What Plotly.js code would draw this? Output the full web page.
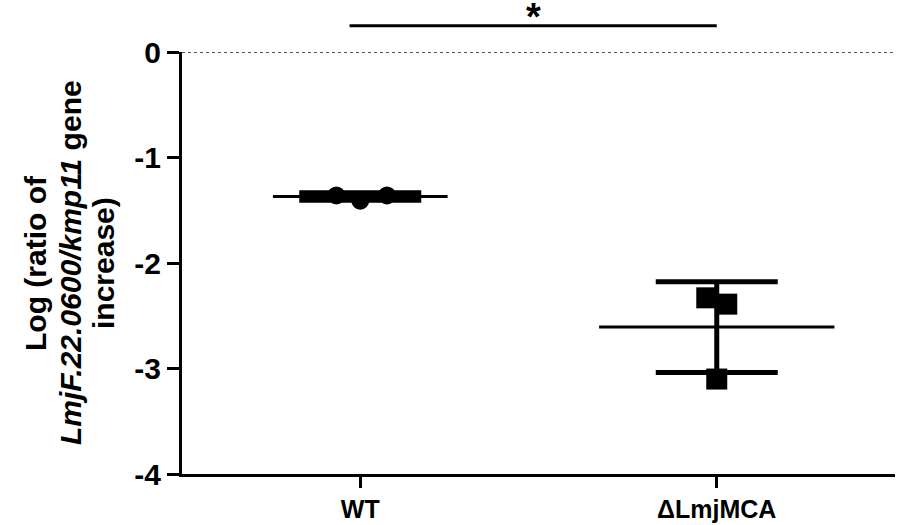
<!DOCTYPE html>
<html>
<head>
<meta charset="utf-8">
<script src="https://cdn.plot.ly/plotly-3.0.1.min.js"></script>
<style>
  html, body { margin: 0; padding: 0; background: #fff; }
  #chart { width: 898px; height: 525px; }
</style>
</head>
<body>
<div id="chart"></div>
<script>
// groups and tick labels
const groups = ['WT', '\u0394LmjMCA'];
const yTickVals = [0, -1, -2, -3, -4];
const yTickText = ['0', '-1', '-2', '-3', '-4'];
const yTitleLines = ['Log (ratio of', '<i>LmjF.22.0600/kmp11</i> gene', 'increase)'];

// individual replicates (log ratio)
const wtValues = [-1.36, -1.41, -1.36];
const wtJitter = [-0.067, 0, 0.075];
const mcaValues = [-2.33, -2.39, -3.10];
const mcaJitter = [-0.028, 0.028, 0];

// summary lines: mean and SD per group
const groupMeans = [-1.37, -2.607];
const groupSD = [0.035, 0.43];
const meanHalfWidth = [0.245, 0.33];

const black = '#000';
const font = 'Liberation Sans, Arial, sans-serif';

const traces = [];

// replicate markers
traces.push({
    x: wtValues.map((v, i) => 0 + wtJitter[i]),
    y: wtValues,
    type: 'scatter', mode: 'markers',
    marker: { symbol: 'circle', size: 18, color: black },
    hoverinfo: 'y', showlegend: false,
});
traces.push({
    x: mcaValues.map((v, i) => 1 + mcaJitter[i]),
    y: mcaValues,
    type: 'scatter', mode: 'markers',
    marker: { symbol: 'square', size: 21, color: black },
    hoverinfo: 'y', showlegend: false,
});

// mean lines
groupMeans.forEach((m, i) => {
    traces.push({
        x: [i - meanHalfWidth[i], i + meanHalfWidth[i]],
        y: [m, m],
        type: 'scatter', mode: 'lines',
        line: { color: black, width: 3 },
        hoverinfo: 'skip', showlegend: false,
    });
});

// SD error bars
traces.push({
    x: [0, 1],
    y: groupMeans,
    type: 'scatter', mode: 'markers',
    marker: { size: 1, color: 'rgba(0,0,0,0)' },
    error_y: { type: 'data', array: groupSD, visible: true, color: black, thickness: 5, width: 61 },
    hoverinfo: 'skip', showlegend: false,
});

// y title drawn as three rotated lines, placed like the original
const titleX = [-147, -112, -79];
const yTitle = yTitleLines.map((t, i) => ({
    xref: 'paper', yref: 'paper', x: 0, y: 0.5, xshift: titleX[i],
    xanchor: 'center', yanchor: 'middle', textangle: -90,
    text: t, showarrow: false,
    font: { family: font, size: 30, weight: 'bold', color: black },
}));

const layout = {
    width: 898, height: 525,
    paper_bgcolor: '#fff', plot_bgcolor: '#fff',
    font: { family: font, color: black, size: 22, weight: 'bold' },
    margin: { l: 182, r: 3, t: 52, b: 51 },
    xaxis: {
        range: [-0.5, 1.5],
        tickvals: [0, 1], ticktext: groups,
        showline: true, linewidth: 3, linecolor: black,
        ticks: 'outside', ticklen: 11, tickwidth: 3, tickcolor: black,
        showgrid: false, zeroline: false,
        tickfont: { family: font, size: 25, weight: 'bold' },
    },
    yaxis: {
        range: [-4, 0],
        tickvals: yTickVals, ticktext: yTickText,
        showline: true, linewidth: 3, linecolor: black,
        ticks: 'outside', ticklen: 12, tickwidth: 3, tickcolor: black,
        showgrid: false, zeroline: false,
        tickfont: { family: font, size: 30, weight: 'bold' },
    },
    shapes: [
        // dotted baseline at 0
        { type: 'line', xref: 'paper', yref: 'y', x0: 0, x1: 1, y0: 0, y1: 0,
          line: { color: '#555', width: 2, dash: 'dot' } },
        // significance bar
        { type: 'line', xref: 'x', yref: 'paper', x0: -0.03, x1: 1.0, y0: 1.062, y1: 1.062,
          line: { color: black, width: 3 } },
    ],
    annotations: [
        { xref: 'x', yref: 'paper', x: 0.485, y: 1.123, yanchor: 'top', yshift: 6,
          text: '*', showarrow: false, font: { family: font, size: 38, weight: 'bold' } },
        ...yTitle,
    ],
    showlegend: false,
};

Plotly.newPlot('chart', traces, layout, { displayModeBar: false, staticPlot: true });
</script>
</body>
</html>
